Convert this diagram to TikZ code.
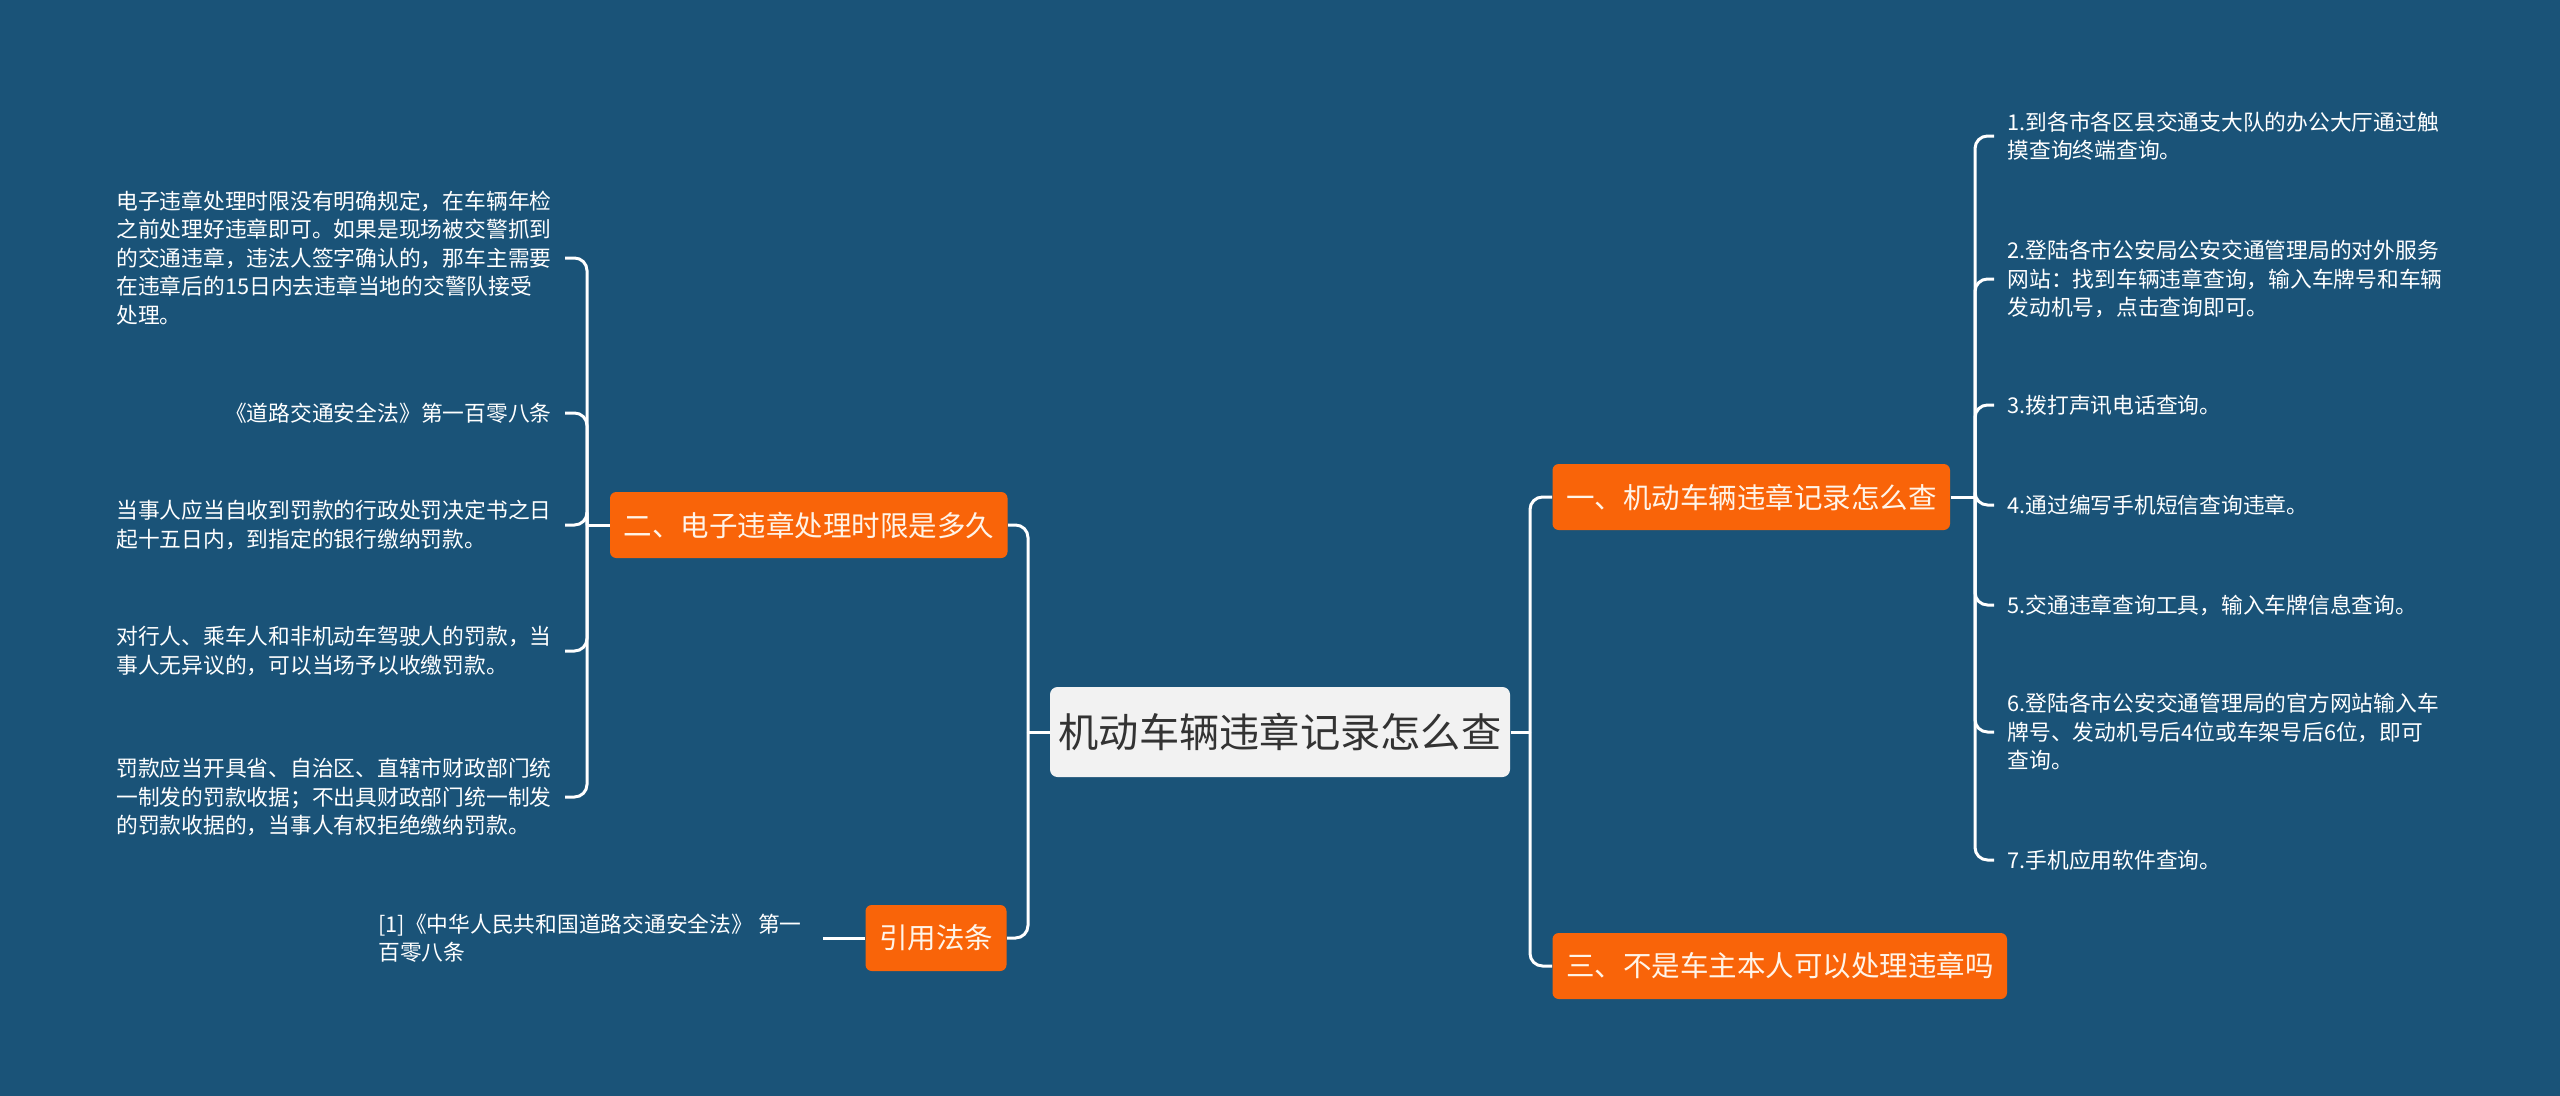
\documentclass[tikz,border=0pt]{standalone}
\usepackage{fontspec}
\setmainfont{Noto Sans CJK SC}
\usepackage{tikz}
\usetikzlibrary{
positioning
}
\definecolor{MapBG}{HTML}{1A5378}
\definecolor{MapOrange}{HTML}{F96409}
\definecolor{MapCream}{HTML}{FFF4E8}
\definecolor{MapRoot}{HTML}{F2F2F2}
\definecolor{MapInk}{HTML}{333333}
\tikzset{
mmroot/.style={fill=MapRoot, text=MapInk, rounded corners=3pt, align=center,
  minimum width=184pt, minimum height=36pt, font=\fontsize{16.1}{20}\selectfont},
mmbranch/.style={fill=MapOrange, text=MapCream, rounded corners=2.5pt, align=center,
  inner xsep=5.4pt, minimum height=26.4pt, font=\fontsize{11.4}{14}\selectfont},
mmleaf/.style={text=white, align=left, inner xsep=5.2pt, inner ysep=0pt,
  font=\fontsize{8.7}{11.4}\selectfont},
mmlink/.style={draw=white, line width=1.2pt, rounded corners=5pt}
}

\begin{document}
\begin{tikzpicture}[x=0.4pt, y=-0.4pt]
\useasboundingbox (0,0) rectangle (2560,1095);
\fill[MapBG] (-10,-10) rectangle (2570,1105);

\node[mmroot] (root) at (1280,732) {机动车辆违章记录怎么查};

% right side
\node[mmbranch, anchor=west] (query) at (1552,497) {一、机动车辆违章记录怎么查};
\node[mmbranch, anchor=west] (owner) at (1552,966) {三、不是车主本人可以处理违章吗};

\node[mmleaf, anchor=west] (q1) at (1994,136) {1.到各市各区县交通支大队的办公大厅通过触\\摸查询终端查询。};
\node[mmleaf, anchor=west] (q2) at (1994,279) {2.登陆各市公安局公安交通管理局的对外服务\\网站：找到车辆违章查询，输入车牌号和车辆\\发动机号，点击查询即可。};
\node[mmleaf, anchor=west] (q3) at (1994,405) {3.拨打声讯电话查询。};
\node[mmleaf, anchor=west] (q4) at (1994,505) {4.通过编写手机短信查询违章。};
\node[mmleaf, anchor=west] (q5) at (1994,605) {5.交通违章查询工具，输入车牌信息查询。};
\node[mmleaf, anchor=west] (q6) at (1994,732) {6.登陆各市公安交通管理局的官方网站输入车\\牌号、发动机号后4位或车架号后6位，即可\\查询。};
\node[mmleaf, anchor=west] (q7) at (1994,860) {7.手机应用软件查询。};

% left side
\node[mmbranch, anchor=east] (limit) at (1008,525) {二、电子违章处理时限是多久};
\node[mmbranch, anchor=east] (cite) at (1007,938) {引用法条};

\node[mmleaf, anchor=east] (l1) at (565,258) {电子违章处理时限没有明确规定，在车辆年检\\之前处理好违章即可。如果是现场被交警抓到\\的交通违章，违法人签字确认的，那车主需要\\在违章后的15日内去违章当地的交警队接受\\处理。};
\node[mmleaf, anchor=east] (l2) at (565,413) {《道路交通安全法》第一百零八条};
\node[mmleaf, anchor=east] (l3) at (565,525) {当事人应当自收到罚款的行政处罚决定书之日\\起十五日内，到指定的银行缴纳罚款。};
\node[mmleaf, anchor=east] (l4) at (565,651) {对行人、乘车人和非机动车驾驶人的罚款，当\\事人无异议的，可以当场予以收缴罚款。};
\node[mmleaf, anchor=east] (l5) at (565,797) {罚款应当开具省、自治区、直辖市财政部门统\\一制发的罚款收据；不出具财政部门统一制发\\的罚款收据的，当事人有权拒绝缴纳罚款。};
\node[mmleaf, left=16.8pt of cite, inner xsep=8.4pt] (citetext) {[1]《中华人民共和国道路交通安全法》 第一\\百零八条};

\coordinate (rj) at (1530,732);
\coordinate (qj) at (1975,497);
\coordinate (lj) at (1028,732);
\coordinate (mj) at (587,525);

\draw[mmlink] (root.east) -- (rj);
\draw[mmlink] (rj) |- (query.west);
\draw[mmlink] (rj) |- (owner.west);
\draw[mmlink] (query.east) -- (qj);
\foreach \n in {q1,q2,q3,q4,q5,q6,q7}
  \draw[mmlink] (qj) |- (\n.west);

\draw[mmlink] (root.west) -- (lj);
\draw[mmlink] (lj) |- (limit.east);
\draw[mmlink] (lj) |- (cite.east);
\draw[mmlink] (limit.west) -- (mj);
\foreach \n in {l1,l2,l3,l4,l5}
  \draw[mmlink] (mj) |- (\n.east);
\draw[mmlink] (cite.west) -- (citetext.east);
\end{tikzpicture}
\end{document}
